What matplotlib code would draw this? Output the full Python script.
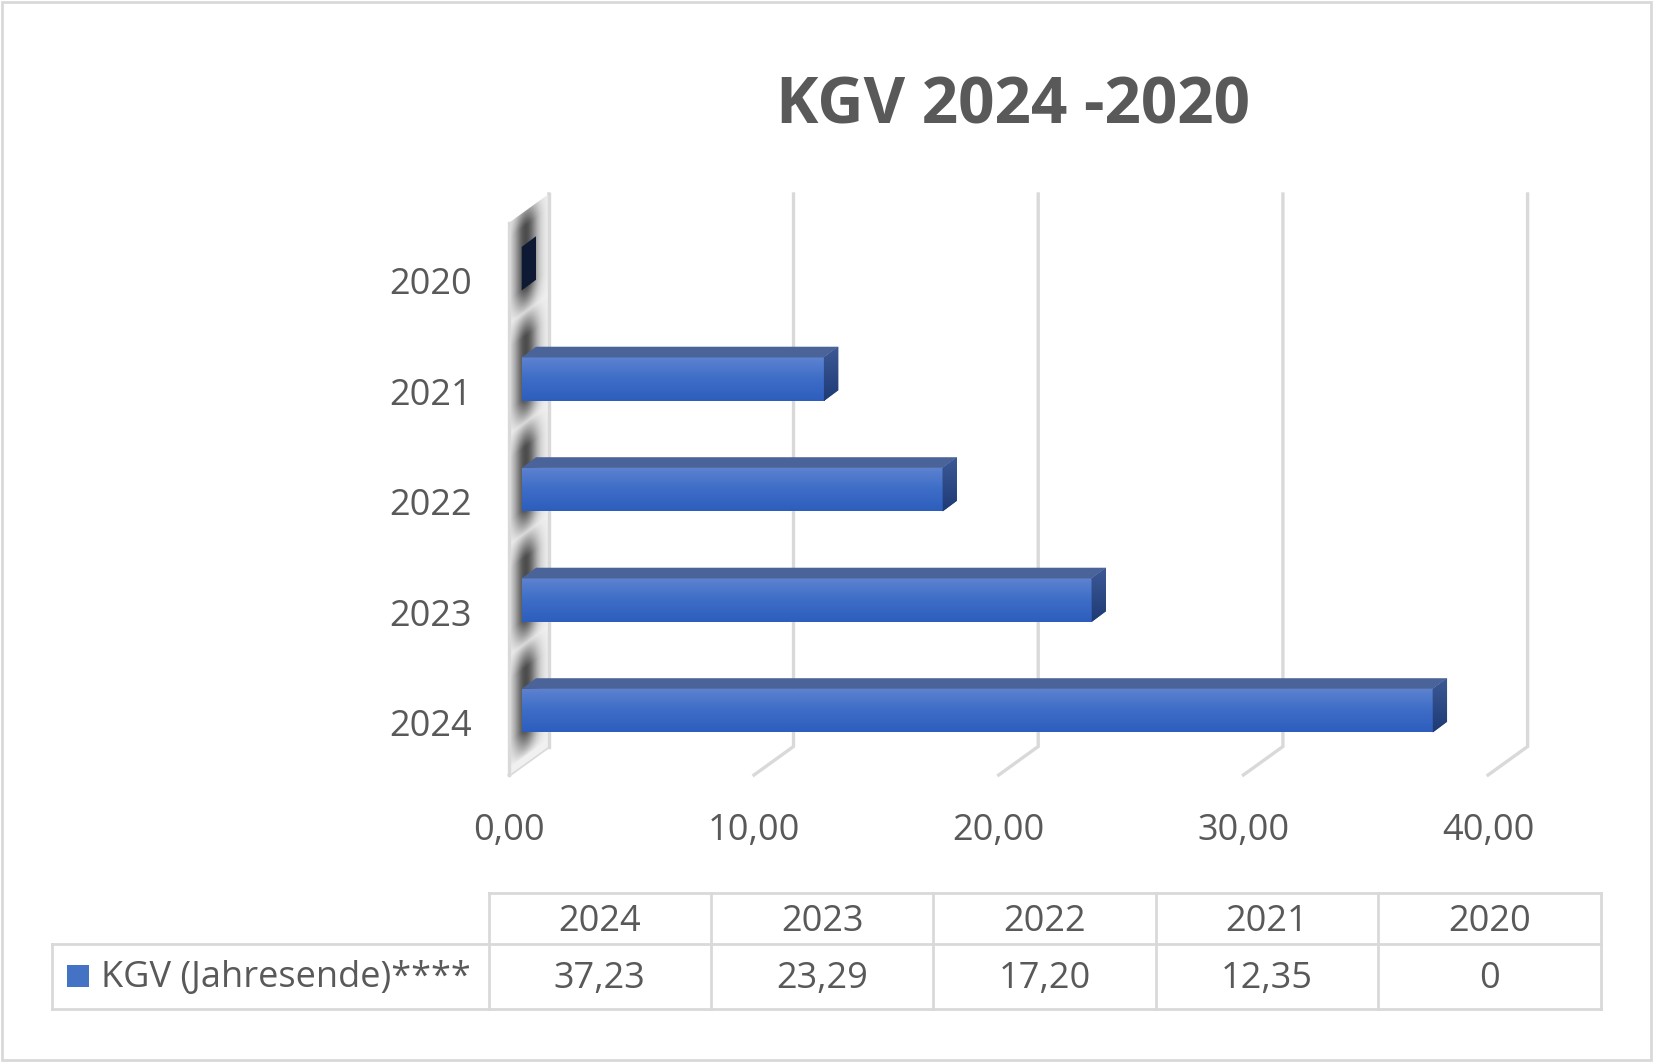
import numpy as np
import matplotlib.pyplot as plt
from matplotlib.patches import Polygon, Rectangle

# data
years = ['2024', '2023', '2022', '2021', '2020']
kgv = [37.23, 23.29, 17.20, 12.35, 0.0]
x_ticks = [0, 10, 20, 30, 40]
title = 'KGV 2024 -2020'
series_name = 'KGV (Jahresende)****'

W, H = 1653, 1062
GREY = '#595959'
LINE = '#d9d9d9'


def fmt(v):
    return f'{v:.2f}'.replace('.', ',')


def gradient(ax, extent, colors, clip, z):
    # vertical colour ramp, bottom -> top
    ramp = np.linspace(0, 1, 64)
    stops = np.linspace(0, 1, len(colors))
    rgb = np.array([plt.matplotlib.colors.to_rgb(c) for c in colors])
    img = np.stack([np.interp(ramp, stops, rgb[:, k]) for k in range(3)], axis=-1)
    img = img[:, None, :].repeat(2, axis=1)
    im = ax.imshow(img, extent=extent, origin='lower', aspect='auto',
                   interpolation='bilinear', zorder=z)
    im.set_clip_path(clip)
    return im


plt.rcParams['font.family'] = ['Open Sans', 'DejaVu Sans']

fig = plt.figure(figsize=(W / 100, H / 100), dpi=100)

# main plot axes, x in KGV units, y in category slots
x0px, xscale = 521.7, 24.47
y0px, yscale = 710.7, 110.5
xlim = (-2, 44)
ylim = (-0.8, 4.9)
left = x0px + xlim[0] * xscale
right = x0px + xlim[1] * xscale
top = y0px - ylim[1] * yscale
bottom = y0px - ylim[0] * yscale
ax = fig.add_axes([left / W, 1 - bottom / H, (right - left) / W, (bottom - top) / H])
ax.axis('off')

# 3d frame geometry (front/back planes)
fx, bx = -0.507, 1.108
ff, fb = -0.582, -0.324
tb = 4.676
ddy = fb - ff

# grid lines on back wall + floor
for v in x_ticks:
    ax.plot([v + fx, v + bx, v + bx], [ff, fb, tb], color=LINE, lw=2.4,
            solid_joinstyle='miter', zorder=1)

# side wall with shadow
wall = Polygon([(fx, ff), (bx, fb), (bx, tb), (fx, tb - ddy)], closed=True,
               facecolor='#f0f0f0', edgecolor='none', zorder=2)
ax.add_patch(wall)
pos = np.arange(len(years))
nx, ny = 60, 700
U, C = np.meshgrid(np.linspace(0, 1, nx), np.linspace(ff, tb, ny))
Cp = C - ddy * U
g = np.min(np.abs(Cp[..., None] - pos), axis=-1)
vert = np.clip((0.52 - g) / 0.24, 0, 1) ** 0.8
horiz = np.exp(-((U - 0.42) / 0.3) ** 2)
shade = np.zeros((ny, nx, 4))
shade[..., :3] = 0.12
shade[..., 3] = 0.78 * vert * horiz
im = ax.imshow(shade, extent=[fx, bx, ff, tb], origin='lower', aspect='auto',
               interpolation='bilinear', zorder=2.5)
im.set_clip_path(wall)
ax.plot([fx, fx], [ff, tb - ddy], color=LINE, lw=2.4, zorder=3)
ax.plot([bx, bx], [fb, tb], color=LINE, lw=2.4, zorder=3)

# bars
bh = 0.394
dx, dy = 0.585, 0.097
bars = ax.barh(pos, kgv, height=bh, color='#4472c4', zorder=4)
for c, v, bar in zip(pos, kgv, bars):
    yb, yt = c - bh / 2, c + bh / 2
    side = Polygon([(v, yb), (v, yt), (v + dx, yt + dy), (v + dx, yb + dy)],
                   closed=True, facecolor='#264785', edgecolor='none', zorder=5)
    ax.add_patch(side)
    if v == 0:
        side.set_facecolor('#0e1a33')
        continue
    gradient(ax, [0, v, yb, yt], ['#2e5ebd', '#3d6dc7', '#5e83d0'], bar, 4.5)
    gradient(ax, [v, v + dx, yb, yt + dy], ['#1f3b76', '#3d5a96'], side, 5.5)
    topf = Polygon([(0, yt), (v, yt), (v + dx, yt + dy), (dx, yt + dy)],
                   closed=True, facecolor='#4a6398', edgecolor='none', zorder=5)
    ax.add_patch(topf)

# tick labels
for v in x_ticks:
    ax.text(v + fx, -1.170, fmt(v), ha='center', va='baseline',
            fontsize=26, color=GREY)
for c, yr in zip(pos, years):
    ax.text(xlim[0] - 0.04, c - 0.229, yr, ha='right', va='baseline',
            fontsize=26, color=GREY)

ax.set_xlim(xlim)
ax.set_ylim(ylim)

# overlay in pixel units: title, data table, border
lay = fig.add_axes([0, 0, 1, 1])
lay.set_xlim(0, W)
lay.set_ylim(H, 0)
lay.axis('off')
lay.patch.set_alpha(0)

lay.text(1013, 124, title, ha='center', va='baseline', fontsize=46,
         fontweight='bold', color=GREY)

col_left, col_w = 488.5, 222.4
hdr_top, row_mid, row_bot, row_left = 893.3, 944, 1009.3, 52.3
tab_right = col_left + col_w * len(years)
tl = dict(color=LINE, lw=2, solid_capstyle='projecting', zorder=1)
lay.plot([col_left, tab_right], [hdr_top, hdr_top], **tl)
lay.plot([row_left, tab_right], [row_mid, row_mid], **tl)
lay.plot([row_left, tab_right], [row_bot, row_bot], **tl)
lay.plot([row_left, row_left], [row_mid, row_bot], **tl)
for i in range(len(years) + 1):
    xx = col_left + i * col_w
    lay.plot([xx, xx], [hdr_top, row_bot], **tl)
for i, (yr, v) in enumerate(zip(years, kgv)):
    cx = col_left + (i + 0.5) * col_w
    lay.text(cx, 930.7, yr, ha='center', va='baseline', fontsize=26, color=GREY)
    lay.text(cx, 988, fmt(v) if v else '0', ha='center', va='baseline',
             fontsize=26, color=GREY)
lay.add_patch(Rectangle((67.3, 965), 21.7, 21.7, facecolor='#4472c4',
                        edgecolor='none'))
lay.text(101, 987.5, series_name, ha='left', va='baseline', fontsize=26, color=GREY)

lay.add_patch(Rectangle((2, 2), W - 4, H - 4, fill=False, edgecolor=LINE, lw=2))

plt.savefig('out.png', dpi=100)
